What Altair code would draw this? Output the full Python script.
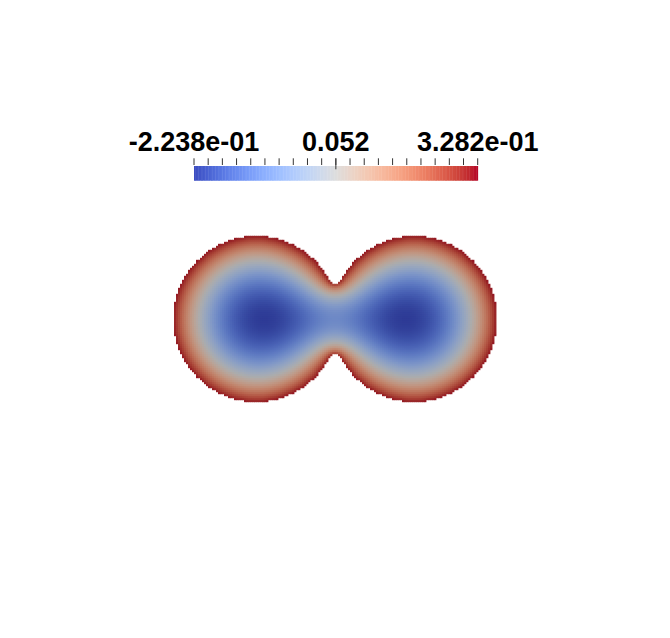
import numpy as np
import pandas as pd
import altair as alt

# ---- values ----
value_min = -0.2238
value_max = 0.3282
bar_label_values = [-0.2238, 0.0522, 0.3282]
bar_labels = ["-2.238e-01", "0.052", "3.282e-01"]
n_bar_ticks = 21

# domain: two unit circles joined by a small fillet (model units)
circle_centers_x = [-0.953, 0.953]
circle_radius = 1.0
fillet_radius = 0.08

# ParaView "Cool to Warm" colour map
coolwarm = [
    (59, 76, 192), (68, 90, 204), (77, 104, 215), (87, 117, 225), (98, 130, 234),
    (108, 142, 241), (119, 154, 247), (130, 165, 251), (141, 176, 254), (152, 185, 255),
    (163, 194, 255), (174, 201, 253), (184, 208, 249), (194, 213, 244), (204, 217, 238),
    (213, 219, 230), (221, 221, 221), (229, 216, 209), (236, 211, 197), (241, 204, 184),
    (245, 196, 173), (247, 187, 160), (247, 177, 148), (247, 166, 135), (244, 154, 123),
    (241, 141, 111), (236, 127, 99), (229, 112, 88), (222, 96, 77), (213, 80, 66),
    (203, 62, 56), (192, 40, 47), (180, 4, 38),
]
surface_shade = 0.78

# ---- scalar field: Poisson solution on the domain, rescaled to the value range ----
px_per_unit = 82.8
h = 2.0 / px_per_unit
nx = int(np.ceil(2.05 / h)) + 1
ny = int(np.ceil(1.05 / h)) + 1
xs = np.arange(-nx, nx + 1) * h
ys = np.arange(-ny, ny + 1) * h
X, Y = np.meshgrid(xs, ys)
c = circle_centers_x[1]
R = circle_radius
rf = fillet_radius
yc = np.sqrt((R + rf) ** 2 - c ** 2)
xt = c * rf / (R + rf)
inside = ((X - circle_centers_x[0]) ** 2 + Y ** 2 < R ** 2) | ((X - circle_centers_x[1]) ** 2 + Y ** 2 < R ** 2)
bridge = (np.abs(X) <= xt) & (np.abs(Y) <= yc) & (X ** 2 + (np.abs(Y) - yc) ** 2 > rf ** 2)
mask = (inside | bridge).astype(float)


def lap(u):
    out = 4 * u
    out[1:, :] -= u[:-1, :]
    out[:-1, :] -= u[1:, :]
    out[:, 1:] -= u[:, :-1]
    out[:, :-1] -= u[:, 1:]
    return out * mask


b = mask * h * h
u = np.zeros_like(b)
r = b.copy()
p = r.copy()
rs = (r * r).sum()
for _ in range(3000):
    Ap = lap(p)
    alpha = rs / (p * Ap).sum()
    u += alpha * p
    r -= alpha * Ap
    rsn = (r * r).sum()
    if np.sqrt(rsn) < 1e-12:
        break
    p = r + (rsn / rs) * p
    rs = rsn

field = value_max - (value_max - value_min) * u / u.max()
sel = mask > 0
ov = h * 0.2
surf = pd.DataFrame({
    "x": np.round(X[sel] - h / 2, 5),
    "x2": np.round(X[sel] + h / 2 + ov, 5),
    "y": np.round(Y[sel] - h / 2 - ov, 5),
    "y2": np.round(Y[sel] + h / 2, 5),
    "v": np.round(field[sel], 5),
})

stop_vals = list(np.linspace(value_min, value_max, len(coolwarm)))
bright = ["#%02x%02x%02x" % t for t in coolwarm]
dark = ["#%02x%02x%02x" % tuple(int(round(ch * surface_shade)) for ch in t) for t in coolwarm]

W, H = 654, 622
cx, cy = 327, 310.8
xdom = [-cx / px_per_unit, (W - cx) / px_per_unit]
ydom = [-(H - cy) / px_per_unit, cy / px_per_unit]

surface = alt.Chart(surf).mark_rect().encode(
    x=alt.X("x:Q", scale=alt.Scale(domain=xdom, nice=False, zero=False), axis=None),
    x2="x2:Q",
    y=alt.Y("y:Q", scale=alt.Scale(domain=ydom, nice=False, zero=False), axis=None),
    y2="y2:Q",
    color=alt.Color("v:Q", scale=alt.Scale(domain=stop_vals, range=dark, interpolate="rgb"), legend=None),
)

# ---- colour bar ----
nslices = 200
edges = np.linspace(value_min, value_max, nslices + 1)
bar_df = pd.DataFrame({"lo": edges[:-1], "hi": edges[1:] + (edges[1] - edges[0]) * 0.3,
                       "mid": (edges[:-1] + edges[1:]) / 2})
bar_x = alt.Scale(domain=[value_min, value_max], range=[186, 469.7])
bar = alt.Chart(bar_df).mark_rect().encode(
    x=alt.X("lo:Q", scale=bar_x, axis=None),
    x2="hi:Q",
    y=alt.value(158),
    y2=alt.value(172.7),
    color=alt.Color("mid:Q", scale=alt.Scale(domain=stop_vals, range=bright, interpolate="rgb"), legend=None),
)

tick_vals = np.linspace(value_min, value_max, n_bar_ticks)
tick_df = pd.DataFrame({"t": tick_vals, "len": [161.3 if i == n_bar_ticks // 2 else 157 for i in range(n_bar_ticks)]})
ticks = alt.Chart(tick_df).mark_rule(color="#333333", strokeWidth=1).encode(
    x=alt.X("t:Q", scale=bar_x, axis=None),
    y=alt.value(150.3),
    y2=alt.Y2("len:Q"),
)
ticks = alt.Chart(tick_df).mark_rule(color="#333333", strokeWidth=1).encode(
    x=alt.X("t:Q", scale=bar_x, axis=None),
    y=alt.value(150.3),
    y2=alt.value(157),
)
mid_tick = alt.Chart(pd.DataFrame({"t": [bar_label_values[1]]})).mark_rule(color="#333333", strokeWidth=1).encode(
    x=alt.X("t:Q", scale=bar_x, axis=None),
    y=alt.value(150.3),
    y2=alt.value(161.3),
)

lab_df = pd.DataFrame({"t": bar_label_values, "label": bar_labels})
labels = alt.Chart(lab_df).mark_text(
    font="Liberation Sans", fontWeight="bold", fontSize=27, baseline="alphabetic", align="center", color="black"
).encode(
    x=alt.X("t:Q", scale=bar_x, axis=None),
    y=alt.value(142.7),
    text="label:N",
)

chart = alt.layer(surface, bar, ticks, mid_tick, labels).resolve_scale(
    x="independent", y="independent", color="independent"
).properties(width=W, height=H, padding=0, autosize="none").configure_view(stroke=None)

chart.save("out.html", embed_options={"renderer": "svg", "actions": False})
